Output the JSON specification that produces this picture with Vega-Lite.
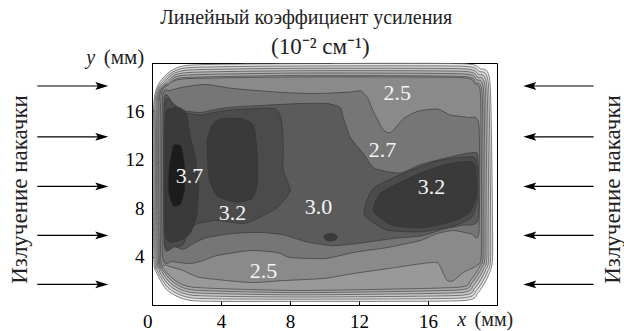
{
  "$schema": "https://vega.github.io/schema/vega-lite/v6.json",
  "width": 345,
  "height": 242,
  "autosize": "none",
  "padding": {"left": 152, "top": 63, "right": 127, "bottom": 26},
  "background": "white",
  "config": {
    "view": {"stroke": "black", "strokeWidth": 1},
    "font": "'Liberation Serif', 'Times New Roman', serif"
  },
  "datasets": {
    "poly": [
      {"p":"r0","o":0,"x":0.1,"y":16.5},{"p":"r0","o":1,"x":0.6,"y":18.7},{"p":"r0","o":2,"x":2.0,"y":19.8},{"p":"r0","o":3,"x":8.6,"y":19.95},{"p":"r0","o":4,"x":17.9,"y":19.95},{"p":"r0","o":5,"x":19.0,"y":19.55},{"p":"r0","o":6,"x":19.6,"y":18.3},{"p":"r0","o":7,"x":19.75,"y":4.5},{"p":"r0","o":8,"x":19.55,"y":2.6},{"p":"r0","o":9,"x":18.9,"y":1.0},{"p":"r0","o":10,"x":17.9,"y":0.35},{"p":"r0","o":11,"x":8.6,"y":0.3},{"p":"r0","o":12,"x":2.4,"y":0.35},{"p":"r0","o":13,"x":0.9,"y":1.2},{"p":"r0","o":14,"x":0.25,"y":2.7},{"p":"r0","o":15,"x":0.1,"y":4.1},
      {"p":"r1","o":0,"x":0.16,"y":16.58},{"p":"r1","o":1,"x":0.69,"y":18.62},{"p":"r1","o":2,"x":1.99,"y":19.6},{"p":"r1","o":3,"x":8.6,"y":19.75},{"p":"r1","o":4,"x":17.89,"y":19.74},{"p":"r1","o":5,"x":18.95,"y":19.32},{"p":"r1","o":6,"x":19.51,"y":18.1},{"p":"r1","o":7,"x":19.64,"y":4.5},{"p":"r1","o":8,"x":19.45,"y":2.73},{"p":"r1","o":9,"x":18.81,"y":1.2},{"p":"r1","o":10,"x":17.84,"y":0.57},{"p":"r1","o":11,"x":8.6,"y":0.48},{"p":"r1","o":12,"x":2.42,"y":0.57},{"p":"r1","o":13,"x":0.99,"y":1.36},{"p":"r1","o":14,"x":0.33,"y":2.76},{"p":"r1","o":15,"x":0.16,"y":4.1},
      {"p":"r2","o":0,"x":0.23,"y":16.66},{"p":"r2","o":1,"x":0.78,"y":18.54},{"p":"r2","o":2,"x":1.97,"y":19.4},{"p":"r2","o":3,"x":8.6,"y":19.56},{"p":"r2","o":4,"x":17.89,"y":19.53},{"p":"r2","o":5,"x":18.9,"y":19.09},{"p":"r2","o":6,"x":19.42,"y":17.9},{"p":"r2","o":7,"x":19.53,"y":4.5},{"p":"r2","o":8,"x":19.34,"y":2.86},{"p":"r2","o":9,"x":18.72,"y":1.41},{"p":"r2","o":10,"x":17.78,"y":0.79},{"p":"r2","o":11,"x":8.6,"y":0.66},{"p":"r2","o":12,"x":2.44,"y":0.79},{"p":"r2","o":13,"x":1.08,"y":1.53},{"p":"r2","o":14,"x":0.41,"y":2.82},{"p":"r2","o":15,"x":0.23,"y":4.1},
      {"p":"r3","o":0,"x":0.29,"y":16.74},{"p":"r3","o":1,"x":0.88,"y":18.46},{"p":"r3","o":2,"x":1.96,"y":19.2},{"p":"r3","o":3,"x":8.6,"y":19.36},{"p":"r3","o":4,"x":17.88,"y":19.32},{"p":"r3","o":5,"x":18.85,"y":18.86},{"p":"r3","o":6,"x":19.33,"y":17.7},{"p":"r3","o":7,"x":19.42,"y":4.5},{"p":"r3","o":8,"x":19.24,"y":3.0},{"p":"r3","o":9,"x":18.63,"y":1.61},{"p":"r3","o":10,"x":17.72,"y":1.01},{"p":"r3","o":11,"x":8.6,"y":0.84},{"p":"r3","o":12,"x":2.46,"y":1.01},{"p":"r3","o":13,"x":1.17,"y":1.69},{"p":"r3","o":14,"x":0.5,"y":2.89},{"p":"r3","o":15,"x":0.29,"y":4.1},
      {"p":"r4","o":0,"x":0.36,"y":16.82},{"p":"r4","o":1,"x":0.97,"y":18.38},{"p":"r4","o":2,"x":1.94,"y":19.0},{"p":"r4","o":3,"x":8.6,"y":19.17},{"p":"r4","o":4,"x":17.88,"y":19.11},{"p":"r4","o":5,"x":18.8,"y":18.63},{"p":"r4","o":6,"x":19.24,"y":17.5},{"p":"r4","o":7,"x":19.31,"y":4.5},{"p":"r4","o":8,"x":19.13,"y":3.13},{"p":"r4","o":9,"x":18.54,"y":1.82},{"p":"r4","o":10,"x":17.66,"y":1.23},{"p":"r4","o":11,"x":8.6,"y":1.02},{"p":"r4","o":12,"x":2.48,"y":1.23},{"p":"r4","o":13,"x":1.26,"y":1.86},{"p":"r4","o":14,"x":0.58,"y":2.95},{"p":"r4","o":15,"x":0.36,"y":4.1},
      {"p":"r5","o":0,"x":0.42,"y":16.9},{"p":"r5","o":1,"x":1.06,"y":18.3},{"p":"r5","o":2,"x":1.93,"y":18.8},{"p":"r5","o":3,"x":8.6,"y":18.97},{"p":"r5","o":4,"x":17.87,"y":18.9},{"p":"r5","o":5,"x":18.75,"y":18.4},{"p":"r5","o":6,"x":19.15,"y":17.3},{"p":"r5","o":7,"x":19.2,"y":4.5},{"p":"r5","o":8,"x":19.03,"y":3.26},{"p":"r5","o":9,"x":18.45,"y":2.02},{"p":"r5","o":10,"x":17.6,"y":1.45},{"p":"r5","o":11,"x":8.6,"y":1.2},{"p":"r5","o":12,"x":2.5,"y":1.45},{"p":"r5","o":13,"x":1.35,"y":2.02},{"p":"r5","o":14,"x":0.66,"y":3.01},{"p":"r5","o":15,"x":0.42,"y":4.1},
      {"p":"L2","o":0,"x":0.5,"y":4.0},{"p":"L2","o":1,"x":0.5,"y":16.8},{"p":"L2","o":2,"x":0.95,"y":18.2},{"p":"L2","o":3,"x":1.95,"y":18.7},{"p":"L2","o":4,"x":8.6,"y":18.85},{"p":"L2","o":5,"x":17.8,"y":18.8},{"p":"L2","o":6,"x":18.7,"y":18.3},{"p":"L2","o":7,"x":19.05,"y":17.2},{"p":"L2","o":8,"x":19.1,"y":4.5},{"p":"L2","o":9,"x":18.86,"y":3.3},{"p":"L2","o":10,"x":18.05,"y":2.7},{"p":"L2","o":11,"x":17.47,"y":2.0},{"p":"L2","o":12,"x":17.12,"y":2.02},{"p":"L2","o":13,"x":16.89,"y":2.6},{"p":"L2","o":14,"x":16.54,"y":3.5},{"p":"L2","o":15,"x":15.55,"y":3.4},{"p":"L2","o":16,"x":13.64,"y":3.0},{"p":"L2","o":17,"x":11.67,"y":2.6},{"p":"L2","o":18,"x":10.0,"y":2.2},{"p":"L2","o":19,"x":7.61,"y":2.02},{"p":"L2","o":20,"x":5.7,"y":1.86},{"p":"L2","o":21,"x":2.8,"y":2.27},{"p":"L2","o":22,"x":1.81,"y":2.85},{"p":"L2","o":23,"x":0.8,"y":3.3},
      {"p":"L3","o":0,"x":0.6,"y":4.2},{"p":"L3","o":1,"x":0.6,"y":16.9},{"p":"L3","o":2,"x":1.06,"y":17.73},{"p":"L3","o":3,"x":2.2,"y":18.1},{"p":"L3","o":4,"x":3.2,"y":18.22},{"p":"L3","o":5,"x":4.71,"y":17.89},{"p":"L3","o":6,"x":7.61,"y":17.56},{"p":"L3","o":7,"x":9.58,"y":17.48},{"p":"L3","o":8,"x":11.5,"y":17.6},{"p":"L3","o":9,"x":12.1,"y":17.7},{"p":"L3","o":10,"x":12.5,"y":17.1},{"p":"L3","o":11,"x":12.83,"y":16.0},{"p":"L3","o":12,"x":13.4,"y":14.5},{"p":"L3","o":13,"x":13.85,"y":14.25},{"p":"L3","o":14,"x":14.58,"y":15.4},{"p":"L3","o":15,"x":15.38,"y":16.0},{"p":"L3","o":16,"x":16.54,"y":16.2},{"p":"L3","o":17,"x":17.29,"y":15.7},{"p":"L3","o":18,"x":18.28,"y":15.5},{"p":"L3","o":19,"x":18.95,"y":14.9},{"p":"L3","o":20,"x":18.95,"y":6.0},{"p":"L3","o":21,"x":18.45,"y":5.91},{"p":"L3","o":22,"x":17.47,"y":6.16},{"p":"L3","o":23,"x":16.54,"y":5.91},{"p":"L3","o":24,"x":15.55,"y":5.33},{"p":"L3","o":25,"x":13.64,"y":4.75},{"p":"L3","o":26,"x":11.67,"y":4.34},{"p":"L3","o":27,"x":10.05,"y":3.84},{"p":"L3","o":28,"x":8.01,"y":3.93},{"p":"L3","o":29,"x":7.26,"y":4.34},{"p":"L3","o":30,"x":5.7,"y":4.5},{"p":"L3","o":31,"x":3.79,"y":4.09},{"p":"L3","o":32,"x":2.97,"y":3.68},{"p":"L3","o":33,"x":2.22,"y":3.43},{"p":"L3","o":34,"x":1.2,"y":3.6},
      {"p":"L4","o":0,"x":0.7,"y":5.0},{"p":"L4","o":1,"x":0.7,"y":16.9},{"p":"L4","o":2,"x":1.2,"y":16.7},{"p":"L4","o":3,"x":1.81,"y":16.07},{"p":"L4","o":4,"x":2.8,"y":15.91},{"p":"L4","o":5,"x":3.38,"y":16.07},{"p":"L4","o":6,"x":4.37,"y":16.32},{"p":"L4","o":7,"x":6.26,"y":16.49},{"p":"L4","o":8,"x":8.6,"y":16.65},{"p":"L4","o":9,"x":10.16,"y":16.65},{"p":"L4","o":10,"x":10.92,"y":16.32},{"p":"L4","o":11,"x":11.09,"y":15.5},{"p":"L4","o":12,"x":11.5,"y":13.84},{"p":"L4","o":13,"x":12.25,"y":12.52},{"p":"L4","o":14,"x":12.9,"y":11.3},{"p":"L4","o":15,"x":14.39,"y":10.9},{"p":"L4","o":16,"x":15.55,"y":11.6},{"p":"L4","o":17,"x":17.47,"y":12.3},{"p":"L4","o":18,"x":18.63,"y":12.6},{"p":"L4","o":19,"x":18.9,"y":12.2},{"p":"L4","o":20,"x":18.9,"y":7.0},{"p":"L4","o":21,"x":18.0,"y":6.6},{"p":"L4","o":22,"x":17.0,"y":6.3},{"p":"L4","o":23,"x":15.6,"y":5.7},{"p":"L4","o":24,"x":14.0,"y":5.5},{"p":"L4","o":25,"x":12.0,"y":5.1},{"p":"L4","o":26,"x":10.5,"y":4.9},{"p":"L4","o":27,"x":9.0,"y":5.2},{"p":"L4","o":28,"x":7.61,"y":5.8},{"p":"L4","o":29,"x":6.26,"y":6.0},{"p":"L4","o":30,"x":4.71,"y":5.91},{"p":"L4","o":31,"x":3.2,"y":5.58},{"p":"L4","o":32,"x":2.39,"y":5.08},{"p":"L4","o":33,"x":1.81,"y":4.6},{"p":"L4","o":34,"x":1.24,"y":4.9},
      {"p":"L6a","o":0,"x":0.75,"y":5.2},{"p":"L6a","o":1,"x":0.75,"y":16.6},{"p":"L6a","o":2,"x":1.3,"y":16.45},{"p":"L6a","o":3,"x":1.81,"y":15.9},{"p":"L6a","o":4,"x":2.8,"y":15.7},{"p":"L6a","o":5,"x":3.38,"y":15.85},{"p":"L6a","o":6,"x":4.37,"y":16.1},{"p":"L6a","o":7,"x":6.26,"y":16.25},{"p":"L6a","o":8,"x":7.2,"y":16.2},{"p":"L6a","o":9,"x":7.5,"y":15.3},{"p":"L6a","o":10,"x":7.61,"y":13.35},{"p":"L6a","o":11,"x":7.61,"y":11.12},{"p":"L6a","o":12,"x":8.01,"y":9.46},{"p":"L6a","o":13,"x":7.26,"y":8.06},{"p":"L6a","o":14,"x":6.1,"y":7.15},{"p":"L6a","o":15,"x":5.29,"y":6.73},{"p":"L6a","o":16,"x":3.79,"y":6.98},{"p":"L6a","o":17,"x":2.6,"y":6.7},{"p":"L6a","o":18,"x":2.1,"y":6.0},{"p":"L6a","o":19,"x":1.8,"y":5.0},{"p":"L6a","o":20,"x":1.3,"y":4.8},
      {"p":"L6b","o":0,"x":12.3,"y":7.5},{"p":"L6b","o":1,"x":12.8,"y":9.6},{"p":"L6b","o":2,"x":14.6,"y":10.9},{"p":"L6b","o":3,"x":16.4,"y":11.85},{"p":"L6b","o":4,"x":17.5,"y":12.15},{"p":"L6b","o":5,"x":18.6,"y":12.25},{"p":"L6b","o":6,"x":18.85,"y":11.7},{"p":"L6b","o":7,"x":18.85,"y":8.6},{"p":"L6b","o":8,"x":18.5,"y":7.2},{"p":"L6b","o":9,"x":17.4,"y":6.5},{"p":"L6b","o":10,"x":15.6,"y":6.05},{"p":"L6b","o":11,"x":13.6,"y":6.2},
      {"p":"L7a","o":0,"x":0.8,"y":5.8},{"p":"L7a","o":1,"x":0.8,"y":15.5},{"p":"L7a","o":2,"x":1.1,"y":16.2},{"p":"L7a","o":3,"x":1.6,"y":16.3},{"p":"L7a","o":4,"x":2.0,"y":15.8},{"p":"L7a","o":5,"x":2.2,"y":14.0},{"p":"L7a","o":6,"x":2.5,"y":12.3},{"p":"L7a","o":7,"x":2.7,"y":10.0},{"p":"L7a","o":8,"x":2.6,"y":7.5},{"p":"L7a","o":9,"x":2.2,"y":5.9},{"p":"L7a","o":10,"x":1.5,"y":5.3},
      {"p":"L7b","o":0,"x":3.2,"y":13.5},{"p":"L7b","o":1,"x":3.5,"y":14.9},{"p":"L7b","o":2,"x":4.0,"y":15.4},{"p":"L7b","o":3,"x":5.2,"y":15.4},{"p":"L7b","o":4,"x":5.9,"y":14.8},{"p":"L7b","o":5,"x":6.1,"y":12.5},{"p":"L7b","o":6,"x":6.1,"y":10.0},{"p":"L7b","o":7,"x":5.8,"y":8.8},{"p":"L7b","o":8,"x":4.9,"y":8.5},{"p":"L7b","o":9,"x":3.8,"y":9.0},{"p":"L7b","o":10,"x":3.3,"y":10.5},
      {"p":"L7c","o":0,"x":12.83,"y":7.8},{"p":"L7c","o":1,"x":13.3,"y":9.3},{"p":"L7c","o":2,"x":14.9,"y":10.5},{"p":"L7c","o":3,"x":16.5,"y":11.4},{"p":"L7c","o":4,"x":17.5,"y":11.75},{"p":"L7c","o":5,"x":18.5,"y":11.85},{"p":"L7c","o":6,"x":18.75,"y":11.3},{"p":"L7c","o":7,"x":18.8,"y":9.0},{"p":"L7c","o":8,"x":18.4,"y":7.6},{"p":"L7c","o":9,"x":17.4,"y":6.9},{"p":"L7c","o":10,"x":15.7,"y":6.4},{"p":"L7c","o":11,"x":13.9,"y":6.6},
      {"p":"L7d","o":0,"x":9.95,"y":5.6},{"p":"L7d","o":1,"x":10.1,"y":5.85},{"p":"L7d","o":2,"x":10.5,"y":5.9},{"p":"L7d","o":3,"x":10.75,"y":5.65},{"p":"L7d","o":4,"x":10.6,"y":5.35},{"p":"L7d","o":5,"x":10.2,"y":5.3},
      {"p":"L9","o":0,"x":0.95,"y":9.5},{"p":"L9","o":1,"x":1.0,"y":11.5},{"p":"L9","o":2,"x":1.25,"y":13.2},{"p":"L9","o":3,"x":1.7,"y":13.1},{"p":"L9","o":4,"x":1.9,"y":11.5},{"p":"L9","o":5,"x":1.9,"y":9.5},{"p":"L9","o":6,"x":1.65,"y":8.3},{"p":"L9","o":7,"x":1.2,"y":8.2}
    ],
    "vals": [
      {"t":"3.7","x":2.17,"y":10.7},
      {"t":"3.2","x":4.66,"y":7.64},
      {"t":"3.0","x":9.65,"y":8.06},
      {"t":"3.2","x":16.2,"y":9.79},
      {"t":"2.7","x":13.36,"y":12.77},
      {"t":"2.5","x":14.22,"y":17.48},
      {"t":"2.5","x":6.46,"y":2.85}
    ],
    "arrowsL": [
      {"x1":-6.65,"x2":-2.9,"tip":-2.91,"y":1.7},
      {"x1":-6.65,"x2":-2.9,"tip":-2.91,"y":5.75},
      {"x1":-6.65,"x2":-2.9,"tip":-2.91,"y":9.8},
      {"x1":-6.65,"x2":-2.9,"tip":-2.91,"y":13.9},
      {"x1":-6.65,"x2":-2.9,"tip":-2.91,"y":18.1}
    ],
    "arrowsR": [
      {"x1":21.9,"x2":25.6,"tip":21.9,"y":1.7},
      {"x1":21.9,"x2":25.6,"tip":21.9,"y":5.75},
      {"x1":21.9,"x2":25.6,"tip":21.9,"y":9.8},
      {"x1":21.9,"x2":25.6,"tip":21.9,"y":13.9},
      {"x1":21.9,"x2":25.6,"tip":21.9,"y":18.1}
    ],
    "side": [
      {"t":"Излучение накачки","x":-7.63,"y":9.55},
      {"t":"Излучение накачки","x":26.74,"y":9.55}
    ],
    "ttl": [
      {"t":"Линейный коэффициент усиления","x":8.94,"y":23.68},
      {"t":"(10⁻² см⁻¹)","x":9.76,"y":21.36}
    ],
    "unitR": [
      {"t":"(мм)","x":-0.45,"y":20.45}
    ],
    "unitL": [
      {"t":"(мм)","x":18.7,"y":-1.2}
    ],
    "ital": [
      {"t":"y","x":-3.55,"y":20.45},
      {"t":"x","x":17.95,"y":-1.2}
    ]
  },
  "layer": [
    {
      "data": {"name": "poly"},
      "mark": {"type": "line", "interpolate": "cardinal-closed", "tension": 0.4, "stroke": "#303030", "strokeWidth": 0.6},
      "encoding": {
        "x": {"field": "x", "type": "quantitative", "scale": {"domain": [0, 20], "nice": false, "zero": false},
          "axis": {"values": [0,2,4,6,8,10,12,14,16,18,20], "labelExpr": "datum.value % 4 === 0 && datum.value < 20 ? datum.label : ''", "grid": false, "tickSize": -5, "tickColor": "black", "domainColor": "black", "labelFont": "'Liberation Serif', 'Times New Roman', serif", "labelFontSize": 19, "labelColor": "black", "labelPadding": 12, "title": null,
            "labelAlign": {"condition": {"test": "datum.value === 0", "value": "right"}, "value": "center"}}},
        "y": {"field": "y", "type": "quantitative", "scale": {"domain": [0, 20], "nice": false, "zero": false},
          "axis": {"values": [0,2,4,6,8,10,12,14,16,18,20], "labelExpr": "datum.value % 4 === 0 && datum.value > 0 && datum.value < 20 ? datum.label : ''", "grid": false, "tickSize": -5, "tickColor": "black", "domainColor": "black", "labelFont": "'Liberation Serif', 'Times New Roman', serif", "labelFontSize": 19, "labelColor": "black", "labelPadding": 13, "title": null}},
        "detail": {"field": "p", "type": "nominal"},
        "order": {"field": "o", "type": "quantitative"},
        "fill": {"field": "p", "type": "nominal", "legend": null,
          "scale": {"domain": ["r0","r1","r2","r3","r4","r5","L2","L3","L4","L6a","L6b","L7a","L7b","L7c","L7d","L9"],
                    "range": ["#e6e6e6","#d6d6d6","#c6c6c6","#b6b6b6","#a6a6a6","#999999","#8a8a8a","#767676","#5b5b5b","#4b4b4b","#4b4b4b","#3a3a3a","#3a3a3a","#3a3a3a","#3a3a3a","#1c1c1c"]}}
      }
    },
    {
      "data": {"name": "vals"},
      "mark": {"type": "text", "font": "'Liberation Serif', 'Times New Roman', serif", "fontSize": 22, "color": "#f4f4f4", "align": "center", "baseline": "middle"},
      "encoding": {"x": {"field": "x", "type": "quantitative"}, "y": {"field": "y", "type": "quantitative"}, "text": {"field": "t"}}
    },
    {
      "data": {"name": "arrowsL"},
      "mark": {"type": "rule", "color": "black", "strokeWidth": 1.2},
      "encoding": {"x": {"field": "x1", "type": "quantitative"}, "x2": {"field": "x2"}, "y": {"field": "y", "type": "quantitative"}}
    },
    {
      "data": {"name": "arrowsL"},
      "mark": {"type": "point", "shape": "M-1,-0.6L1,0L-1,0.6L-0.6,0Z", "filled": true, "color": "black", "size": 169, "opacity": 1},
      "encoding": {"x": {"field": "tip", "type": "quantitative"}, "y": {"field": "y", "type": "quantitative"}}
    },
    {
      "data": {"name": "arrowsR"},
      "mark": {"type": "rule", "color": "black", "strokeWidth": 1.2},
      "encoding": {"x": {"field": "x1", "type": "quantitative"}, "x2": {"field": "x2"}, "y": {"field": "y", "type": "quantitative"}}
    },
    {
      "data": {"name": "arrowsR"},
      "mark": {"type": "point", "shape": "M1,-0.6L-1,0L1,0.6L0.6,0Z", "filled": true, "color": "black", "size": 169, "opacity": 1},
      "encoding": {"x": {"field": "tip", "type": "quantitative"}, "y": {"field": "y", "type": "quantitative"}}
    },
    {
      "data": {"name": "side"},
      "mark": {"type": "text", "font": "'Liberation Serif', 'Times New Roman', serif", "fontSize": 23, "color": "#222", "angle": 270, "align": "center", "baseline": "middle"},
      "encoding": {"x": {"field": "x", "type": "quantitative"}, "y": {"field": "y", "type": "quantitative"}, "text": {"field": "t"}}
    },
    {
      "data": {"name": "ttl"},
      "mark": {"type": "text", "font": "'Liberation Serif', 'Times New Roman', serif", "fontSize": 20, "color": "#222", "align": "center", "baseline": "middle"},
      "encoding": {"x": {"field": "x", "type": "quantitative"}, "y": {"field": "y", "type": "quantitative"}, "text": {"field": "t"}, "size": {"condition": {"test": "indexof(datum.t, '(') === 0", "value": 23}, "value": 20}}
    },
    {
      "data": {"name": "unitR"},
      "mark": {"type": "text", "font": "'Liberation Serif', 'Times New Roman', serif", "fontSize": 21, "color": "#222", "align": "right", "baseline": "middle"},
      "encoding": {"x": {"field": "x", "type": "quantitative"}, "y": {"field": "y", "type": "quantitative"}, "text": {"field": "t"}}
    },
    {
      "data": {"name": "unitL"},
      "mark": {"type": "text", "font": "'Liberation Serif', 'Times New Roman', serif", "fontSize": 20, "color": "#222", "align": "left", "baseline": "middle"},
      "encoding": {"x": {"field": "x", "type": "quantitative"}, "y": {"field": "y", "type": "quantitative"}, "text": {"field": "t"}}
    },
    {
      "data": {"name": "ital"},
      "mark": {"type": "text", "font": "'Liberation Serif', 'Times New Roman', serif", "fontSize": 20, "fontStyle": "italic", "color": "#222", "align": "center", "baseline": "middle"},
      "encoding": {"x": {"field": "x", "type": "quantitative"}, "y": {"field": "y", "type": "quantitative"}, "text": {"field": "t"}}
    }
  ]
}
